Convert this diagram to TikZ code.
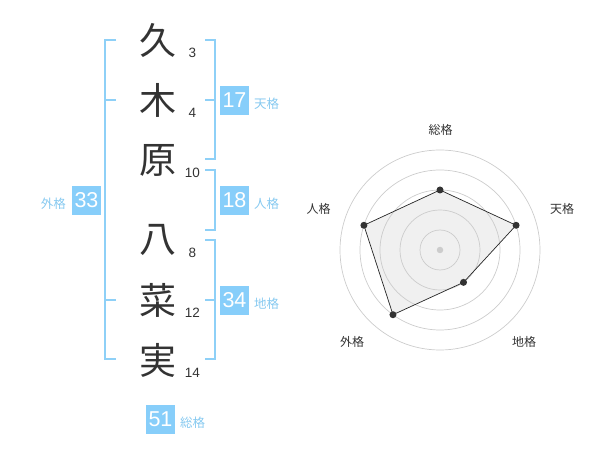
\documentclass[tikz,border=0pt]{standalone}
\usepackage{fontspec}
\setmainfont{Liberation Sans}
\newfontfamily\cjk{Noto Sans CJK JP}
\definecolor{skyb}{HTML}{87CEFA}
\definecolor{brk}{HTML}{8ED0F7}
\definecolor{lbl}{HTML}{86C9F0}
\definecolor{ink}{HTML}{333333}
\definecolor{ring}{HTML}{CCCCCC}
\definecolor{poly}{HTML}{F0F0F0}
\tikzset{
  kanji/.style={font=\cjk\fontsize{37}{37}\selectfont, text=ink, inner sep=0pt},
  strokes/.style={font=\fontsize{13.5}{14}\selectfont, text=ink, inner sep=0pt},
  bracket/.style={draw=brk, line width=2pt},
  numbox/.style={fill=skyb, text=white, minimum width=29pt, minimum height=29pt, inner sep=0pt, font=\fontsize{21.5}{22}\selectfont},
  kaku/.style={text=lbl, inner sep=0pt, font=\cjk\fontsize{12.5}{13}\selectfont},
  rlabel/.style={text=ink, inner sep=0pt, font=\cjk\fontsize{12}{12}\selectfont},
  ringc/.style={draw=ring, line width=0.7pt},
  vdot/.style={circle, fill=ink, minimum size=7pt, inner sep=0pt},
}
\begin{document}
\begin{tikzpicture}[x=1pt,y=-1pt]
\useasboundingbox (0,0) rectangle (600,470);
% characters
\node[kanji] (k1) at (158,40) {久};
\node[kanji] (k2) at (158,100) {木};
\node[kanji] (k3) at (158,160) {原};
\node[kanji] (k4) at (158,240) {八};
\node[kanji] (k5) at (158,300) {菜};
\node[kanji] (k6) at (158,360) {実};
% strokes
\node[strokes] (s1) at (192.5,52.5) {3};
\node[strokes] (s2) at (192.5,113) {4};
\node[strokes] (s3) at (192.5,172.5) {10};
\node[strokes] (s4) at (192.5,252.5) {8};
\node[strokes] (s5) at (192.5,312.5) {12};
\node[strokes] (s6) at (192.5,372.5) {14};
% left bracket (gaikaku)
\coordinate (lt) at (105,40);
\coordinate (lb) at (105,359);
\draw[bracket] (116,40) -- (lt) -- (lb) -- (116,359);
\draw[bracket] (105,100) -- (116,100);
\draw[bracket] (105,300) -- (116,300);
% right brackets
\draw[bracket] (205,40) -- (215,40) -- (215,159) -- (205,159);
\draw[bracket] (205,100) -- (215,100);
\draw[bracket] (205,170) -- (215,170) -- (215,230) -- (205,230);
\draw[bracket] (205,240) -- (215,240) -- (215,359) -- (205,359);
\draw[bracket] (205,300) -- (215,300);
% boxes
\node[numbox] (b17) at (234.5,100.5) {17};
\node[kaku, anchor=west] (t17) at (254,104) {天格};
\node[numbox] (b18) at (234.5,200.5) {18};
\node[kaku, anchor=west] (t18) at (254,204) {人格};
\node[numbox] (b33) at (86.5,200.5) {33};
\node[kaku, anchor=east] (t33) at (66,204) {外格};
\node[numbox] (b34) at (234.5,300.5) {34};
\node[kaku, anchor=west] (t34) at (254,304) {地格};
\node[numbox] (b51) at (160.5,419) {51};
\node[kaku, anchor=west] (t51) at (180,422.5) {総格};
% radar
\coordinate (c) at (440,250);
\path (c) ++(0,-60) coordinate (p1);
\path (c) ++(-18:80) coordinate (p2);
\path (c) ++(54:40) coordinate (p3);
\path (c) ++(126:80) coordinate (p4);
\path (c) ++(198:80) coordinate (p5);
\fill[poly] (p1) -- (p2) -- (p3) -- (p4) -- (p5) -- cycle;
\foreach \r in {20,40,60,80,100} \draw[ringc] (c) circle[radius=\r];
\draw[draw=black!85, line width=0.7pt] (p1) -- (p2) -- (p3) -- (p4) -- (p5) -- cycle;
\node[circle, fill=ring, minimum size=6.5pt, inner sep=0pt] (cd) at (c) {};
\foreach \i in {1,...,5} \node[vdot] (d\i) at (p\i) {};
\node[rlabel] (r1) at (440.5,130) {総格};
\node[rlabel] (r2) at (562,208.5) {天格};
\node[rlabel] (r3) at (524,342) {地格};
\node[rlabel] (r4) at (352,342) {外格};
\node[rlabel] (r5) at (318.5,208.5) {人格};
\end{tikzpicture}
\end{document}
